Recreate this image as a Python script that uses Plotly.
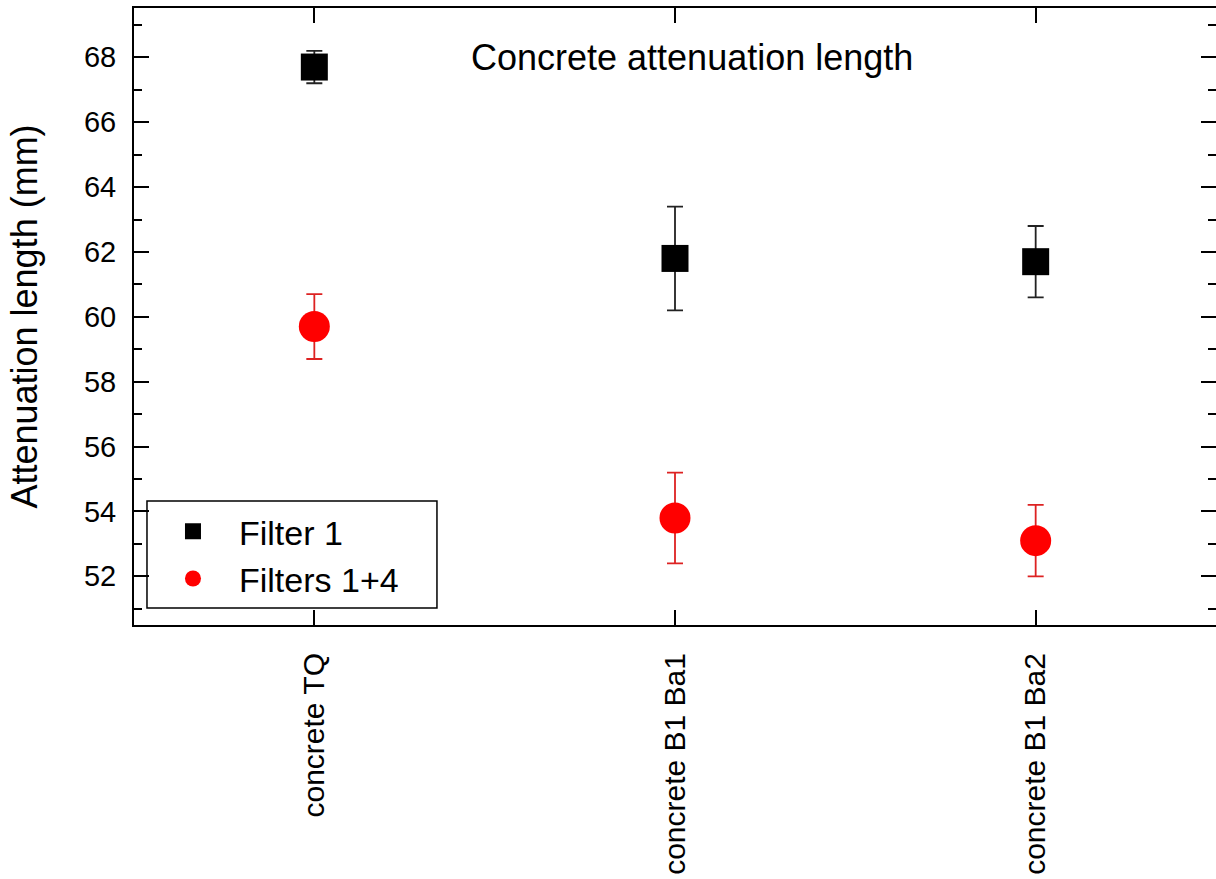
import plotly.graph_objects as go

categories = ["concrete TQ", "concrete B1 Ba1", "concrete B1 Ba2"]
filter1 = [67.7, 61.8, 61.7]
filter1_err = [0.5, 1.6, 1.1]
filters14 = [59.7, 53.8, 53.1]
filters14_err = [1.0, 1.4, 1.1]
title_text = "Concrete attenuation length"
y_title = "Attenuation length (mm)"
y_ticks = [52, 54, 56, 58, 60, 62, 64, 66, 68]

FONT = "Arial, Liberation Sans, sans-serif"
xidx = list(range(len(categories)))

fig = go.Figure()
fig.add_trace(go.Scatter(
    x=xidx, y=filter1, mode="markers", name="Filter 1",
    marker=dict(symbol="square", size=27, color="black"),
    error_y=dict(type="data", array=filter1_err, color="#222222", thickness=1.8, width=8),
))
fig.add_trace(go.Scatter(
    x=xidx, y=filters14, mode="markers", name="Filters 1+4",
    marker=dict(symbol="circle", size=31, color="#ff0000"),
    error_y=dict(type="data", array=filters14_err, color="#dd2222", thickness=1.8, width=8),
))
# invisible trace to carry right-side ticks
fig.add_trace(go.Scatter(x=[None], y=[None], yaxis="y2", showlegend=False, hoverinfo="skip"))

yr = [50.5, 69.52]
fig.update_layout(
    width=1216, height=879,
    margin=dict(l=134, r=0, t=8, b=254),
    paper_bgcolor="white", plot_bgcolor="white",
    font=dict(family=FONT, color="black"),
    showlegend=True,
    legend=dict(
        x=0.012, y=0.028, xanchor="left", yanchor="bottom",
        borderwidth=0, bgcolor="rgba(0,0,0,0)",
        font=dict(size=34, family=FONT), itemwidth=82,
        tracegroupgap=0,
    ),
    shapes=[dict(
        type="rect", xref="paper", yref="paper",
        x0=0.012, x1=0.280, y0=0.0276, y1=0.201,
        line=dict(color="black", width=1.5), fillcolor="white", layer="below",
    )],
    xaxis=dict(
        range=[-0.5, 2.5], tickmode="array", tickvals=xidx, ticktext=categories,
        tickangle=-90, tickfont=dict(size=30, family=FONT),
        ticks="inside", ticklen=15, tickwidth=2, tickcolor="black",
        showline=True, linewidth=2, linecolor="black", mirror="ticks",
        showgrid=False, zeroline=False, ticklabelstandoff=14,
    ),
    yaxis=dict(
        range=yr, tickmode="array", tickvals=y_ticks,
        tickfont=dict(size=29, family=FONT),
        ticks="inside", ticklen=15, tickwidth=2, tickcolor="black",
        minor=dict(dtick=1, tick0=51, ticks="inside", ticklen=8, tickwidth=2, tickcolor="black"),
        showline=True, linewidth=2, linecolor="black", mirror=False,
        showgrid=False, zeroline=False, ticklabelstandoff=10,
        title=dict(text=y_title, font=dict(size=36, family=FONT), standoff=35),
    ),
    yaxis2=dict(
        range=yr, overlaying="y", side="right", anchor="x",
        tickmode="array", tickvals=y_ticks, showticklabels=False,
        ticks="inside", ticklen=15, tickwidth=2, tickcolor="black",
        minor=dict(dtick=1, tick0=51, ticks="inside", ticklen=8, tickwidth=2, tickcolor="black"),
        showline=False, showgrid=False, zeroline=False,
    ),
    annotations=[dict(
        text=title_text, xref="paper", yref="paper", x=0.516, y=0.92,
        xanchor="center", yanchor="middle", showarrow=False,
        font=dict(size=36, family=FONT, color="black"),
    )],
)

fig.write_html(
    "out.html",
    config={"displayModeBar": False},
    post_script="document.body.style.margin='0';document.body.style.overflow='hidden';",
)
